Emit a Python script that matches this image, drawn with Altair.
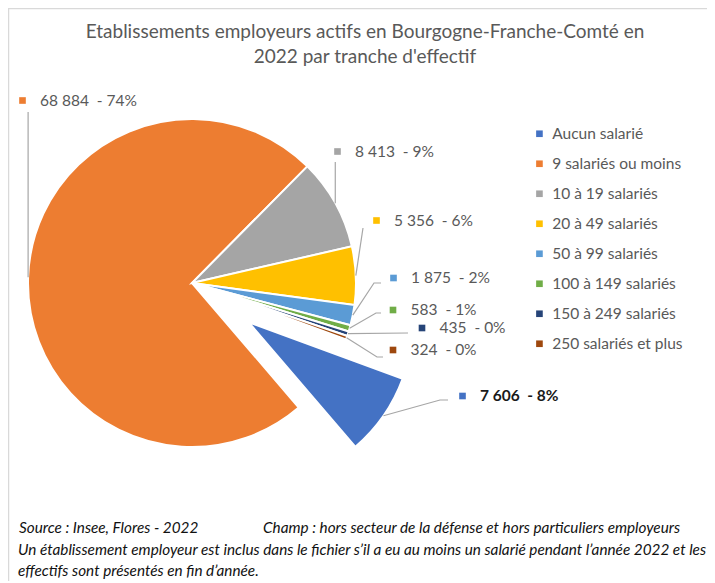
import math
import altair as alt
import pandas as pd

# ---------------- data ----------------
categories = [
    "Aucun salarié",
    "9 salariés ou moins",
    "10 à 19 salariés",
    "20 à 49 salariés",
    "50 à 99 salariés",
    "100 à 149 salariés",
    "150 à 249 salariés",
    "250 salariés et plus",
]
values = [7606, 68884, 8413, 5356, 1875, 583, 435, 324]
colors = ["#4472C4", "#ED7D31", "#A5A5A5", "#FFC000", "#5B9BD5", "#70AD47", "#264478", "#9E480E"]

title_lines = [
    "Etablissements employeurs actifs en Bourgogne-Franche-Comté en",
    "2022 par tranche d'effectif",
]
footer_texts = [
    "Source : Insee, Flores - 2022",
    "Champ : hors secteur de la défense et hors particuliers employeurs",
    "Un établissement employeur est inclus dans le fichier s’il a eu au moins un salarié pendant l’année 2022 et les",
    "effectifs sont présentés en fin d’année.",
]

# ---------------- layout ----------------
W, H = 699, 573
CX, CY, R = 184, 275, 164
START_DEG = 110.1
EXPLODE = 69
EXPLODED = "Aucun salarié"
TEXT = "#595959"
FONT = "Lato"
LINE = "#A6A6A6"
NB = "\u00a0"

# footer text positions (view pixels): left x, middle y
footer_pos = [(11, 520), (255, 520), (10, 542), (10, 563)]

# manual label placement (as in the Excel original): square centre, elbow, end of leader line
label_layout = {
    "Aucun salarié":        dict(sq=(454.5, 388), elbow=(432, 392), end=(440, 392)),
    "9 salariés ou moins":  dict(sq=(14.5, 92.5), vertical=104),
    "10 à 19 salariés":     dict(sq=(329.5, 143.5), vertical=154),
    "20 à 49 salariés":     dict(sq=(368.5, 212.5), elbow=(355, 220), end=(355, 220)),
    "50 à 99 salariés":     dict(sq=(385.5, 270), elbow=(366, 275), end=(373, 275)),
    "100 à 149 salariés":   dict(sq=(385, 302), elbow=(368, 305), end=(373, 305)),
    "150 à 249 salariés":   dict(sq=(414, 320), elbow=(400, 325), end=(400, 325)),
    "250 salariés et plus": dict(sq=(385, 342), elbow=(369, 349), end=(375, 349)),
}
TEXT_GAP = 17.5

total = sum(values)
start = math.radians(START_DEG)


def fmt(v):
    return f"{v:,}".replace(",", NB)


pie_df = pd.DataFrame({"cat": categories, "value": values, "idx": list(range(len(values)))})

line_rows, lab_rows = [], []
cum = 0
explode_dx = explode_dy = 0.0
for i, (c, v) in enumerate(zip(categories, values)):
    mid = start + 2 * math.pi * (cum + v / 2) / total
    cum += v
    ox = oy = 0.0
    if c == EXPLODED:
        ox, oy = EXPLODE * math.sin(mid), -EXPLODE * math.cos(mid)
        explode_dx, explode_dy = ox, oy
    ax = CX + ox + R * math.sin(mid)
    ay = CY + oy - R * math.cos(mid)
    lay = label_layout[c]
    pts = [(ax, ay)]
    if "vertical" in lay:
        pts.append((ax, lay["vertical"]))
    else:
        pts.append(lay["elbow"])
        pts.append(lay["end"])
    for k, (px, py) in enumerate(pts):
        line_rows.append({"cat": c, "k": k, "x": px, "y": py})
    pct = round(100 * v / total)
    lab_rows.append({
        "cat": c,
        "sx": lay["sq"][0],
        "sy": lay["sq"][1],
        "tx": lay["sq"][0] + TEXT_GAP,
        "label": f"{fmt(v)}{NB}{NB}-{NB}{pct}%",
        "bold": c == EXPLODED,
    })

lines_df = pd.DataFrame(line_rows)
labs_df = pd.DataFrame(lab_rows)

theta_scale = alt.Scale(domain=[0, total], range=[start, start + 2 * math.pi])
color_scale = alt.Scale(domain=categories, range=colors)

base = alt.Chart(pie_df).transform_stack(
    stack="value", groupby=[], as_=["v0", "v1"], sort=[alt.SortField("idx", order="ascending")]
)

legend = alt.Legend(
    orient="none", legendX=523.7, legendY=118, title=None,
    symbolType="square", symbolSize=44, symbolStrokeWidth=0,
    labelFontSize=15.5, labelFont=FONT, labelColor=TEXT, labelOffset=5,
    rowPadding=13, padding=0,
)

pie_main = base.transform_filter(alt.datum.cat != EXPLODED).mark_arc(
    radius=R, stroke="white", strokeWidth=2
).encode(
    theta=alt.Theta("v0:Q", scale=theta_scale),
    theta2="v1:Q",
    color=alt.Color("cat:N", scale=color_scale, sort=categories, legend=legend),
    x=alt.value(CX),
    y=alt.value(CY),
)

pie_explode = base.transform_filter(alt.datum.cat == EXPLODED).mark_arc(
    radius=R, stroke="white", strokeWidth=2
).encode(
    theta=alt.Theta("v0:Q", scale=theta_scale),
    theta2="v1:Q",
    color=alt.Color("cat:N", scale=color_scale, sort=categories, legend=legend),
    x=alt.value(CX + explode_dx),
    y=alt.value(CY + explode_dy),
)

leaders = alt.Chart(lines_df).mark_line(color=LINE, strokeWidth=1.2).encode(
    x=alt.X("x:Q", scale=None, axis=None),
    y=alt.Y("y:Q", scale=None, axis=None),
    detail="cat:N",
    order="k:Q",
)

squares = alt.Chart(labs_df).mark_square(size=44, opacity=1).encode(
    x=alt.X("sx:Q", scale=None, axis=None),
    y=alt.Y("sy:Q", scale=None, axis=None),
    fill=alt.Fill("cat:N", scale=alt.Scale(domain=categories, range=colors), legend=None),
)

labels_norm = alt.Chart(labs_df).transform_filter(alt.datum.bold == False).mark_text(
    align="left", baseline="middle", font=FONT, fontSize=15.5, color=TEXT
).encode(
    x=alt.X("tx:Q", scale=None, axis=None),
    y=alt.Y("sy:Q", scale=None, axis=None),
    text="label:N",
)

labels_bold = alt.Chart(labs_df).transform_filter(alt.datum.bold == True).mark_text(
    align="left", baseline="middle", font=FONT, fontSize=15.5, fontWeight="bold", color="#1a1a1a"
).encode(
    x=alt.X("tx:Q", scale=None, axis=None),
    y=alt.Y("sy:Q", scale=None, axis=None),
    text="label:N",
)

title = alt.Chart(pd.DataFrame({"t": [title_lines]})).mark_text(
    align="center", baseline="middle", font=FONT, fontSize=19, color=TEXT, lineHeight=25
).encode(x=alt.value(357), y=alt.value(24), text="t")

footer_df = pd.DataFrame({
    "t": footer_texts,
    "fx": [p[0] for p in footer_pos],
    "fy": [p[1] for p in footer_pos],
})
footer = alt.Chart(footer_df).mark_text(
    align="left", baseline="middle", font=FONT, fontSize=15.3, fontStyle="italic", color="#111111"
).encode(
    x=alt.X("fx:Q", scale=None, axis=None),
    y=alt.Y("fy:Q", scale=None, axis=None),
    text="t:N",
)

frame_top = alt.Chart(pd.DataFrame({"a": [0]})).mark_rule(color="#D9D9D9", strokeWidth=1.5).encode(
    x=alt.value(0), x2=alt.value(W), y=alt.value(0.5)
)
frame_left = alt.Chart(pd.DataFrame({"a": [0]})).mark_rule(color="#D9D9D9", strokeWidth=1.5).encode(
    x=alt.value(0.5), y=alt.value(0), y2=alt.value(H)
)

chart = alt.layer(
    frame_top, frame_left, pie_main, pie_explode, leaders, squares, labels_norm, labels_bold, title, footer
).resolve_scale(x="independent", y="independent").properties(
    width=W, height=H, autosize=alt.AutoSizeParams(type="none"), padding=0
).configure_view(stroke=None)

chart.save("out.html", embed_options={"renderer": "svg", "actions": False})
